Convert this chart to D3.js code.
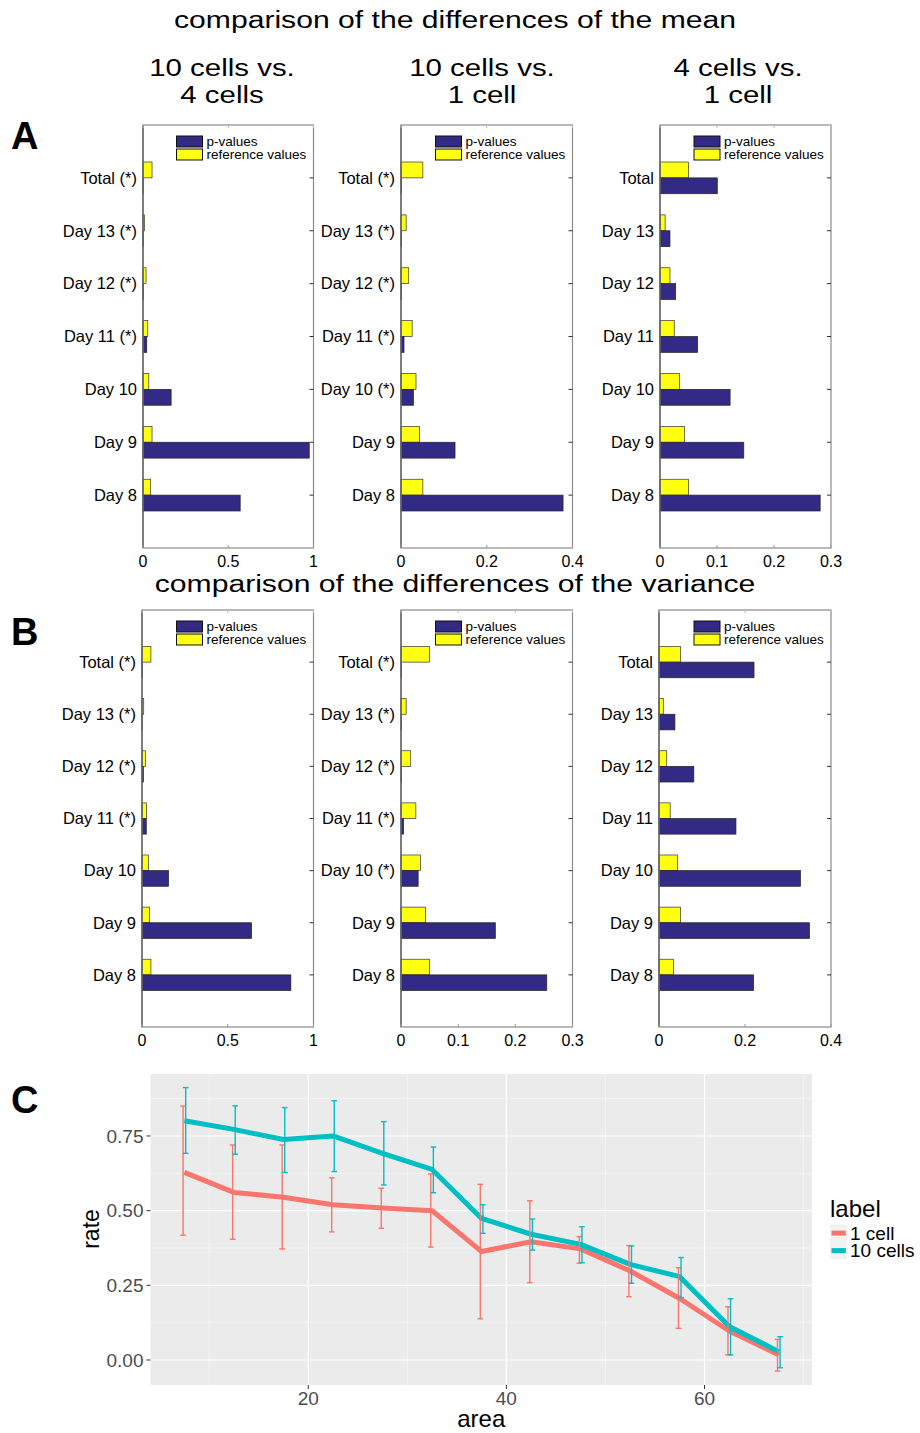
<!DOCTYPE html>
<html>
<head>
<meta charset="utf-8">
<script src="https://cdn.jsdelivr.net/npm/d3@7"></script>
<style>
  body { margin: 0; background: #fff; }
  text { font-family: "Liberation Sans", Arial, sans-serif; }
</style>
</head>
<body>
<div id="chart"></div>
<script>
// ---- data ----
var days = ["Day 8", "Day 9", "Day 10", "Day 11", "Day 12", "Day 13", "Total"];
var labels10v4 = ["Day 8", "Day 9", "Day 10", "Day 11 (*)", "Day 12 (*)", "Day 13 (*)", "Total (*)"];
var labels10v1 = ["Day 8", "Day 9", "Day 10 (*)", "Day 11 (*)", "Day 12 (*)", "Day 13 (*)", "Total (*)"];
var labels4v1 = days;

// mean (panel A)
var meanP_10v4 = [0.57, 0.975, 0.165, 0.022, 0.003, 0.002, 0.001];
var meanRef_10v4 = [0.045, 0.053, 0.034, 0.028, 0.018, 0.008, 0.053];
var meanP_10v1 = [0.378, 0.126, 0.029, 0.007, 0.001, 0.001, 0.001];
var meanRef_10v1 = [0.051, 0.043, 0.035, 0.026, 0.018, 0.012, 0.051];
var meanP_4v1 = [0.281, 0.147, 0.123, 0.066, 0.0275, 0.0175, 0.1005];
var meanRef_4v1 = [0.050, 0.043, 0.034, 0.025, 0.0175, 0.009, 0.050];

// variance (panel B)
var varP_10v4 = [0.868, 0.639, 0.155, 0.025, 0.008, 0.001, 0.002];
var varRef_10v4 = [0.052, 0.043, 0.037, 0.027, 0.020, 0.010, 0.052];
var varP_10v1 = [0.255, 0.165, 0.030, 0.0045, 0.001, 0.0005, 0.0005];
var varRef_10v1 = [0.050, 0.043, 0.034, 0.026, 0.017, 0.009, 0.050];
var varP_4v1 = [0.220, 0.350, 0.329, 0.179, 0.081, 0.037, 0.221];
var varRef_4v1 = [0.034, 0.050, 0.043, 0.026, 0.018, 0.010, 0.050];

var ticks1 = [0, 0.5, 1];
var ticks04 = [0, 0.2, 0.4];
var ticks03 = [0, 0.1, 0.2, 0.3];

// panel C
var area = [7.5, 12.5, 17.5, 22.5, 27.5, 32.5, 37.5, 42.5, 47.5, 52.5, 57.5, 62.5, 67.5];
var rate1 = [0.628, 0.561, 0.545, 0.520, 0.509, 0.500, 0.363, 0.396, 0.372, 0.298, 0.206, 0.097, 0.017];
var lo1 = [0.418, 0.404, 0.372, 0.429, 0.441, 0.378, 0.138, 0.259, 0.324, 0.212, 0.106, 0.017, -0.037];
var hi1 = [0.850, 0.720, 0.720, 0.610, 0.575, 0.623, 0.588, 0.533, 0.413, 0.383, 0.309, 0.178, 0.069];
var rate10 = [0.801, 0.772, 0.738, 0.750, 0.692, 0.638, 0.474, 0.421, 0.387, 0.320, 0.279, 0.112, 0.028];
var lo10 = [0.692, 0.689, 0.628, 0.631, 0.586, 0.560, 0.424, 0.368, 0.326, 0.257, 0.209, 0.017, -0.026];
var hi10 = [0.912, 0.851, 0.845, 0.868, 0.798, 0.713, 0.520, 0.472, 0.446, 0.382, 0.343, 0.205, 0.078];
var seriesNames = ["1 cell", "10 cells"];
var areaTicks = [20, 40, 60];
var rateTicks = [0, 0.25, 0.5, 0.75];

var width = 920, height = 1433;
var blue = "#322a84", yellow = "#ffff10";

var svg = d3.select("#chart").append("svg")
  .attr("width", width)
  .attr("height", height);

// stretched titles like the original figure
function stretchText(x, y, str, size, sx) {
  svg.append("g")
    .attr("transform", "translate(" + x + "," + y + ") scale(" + sx + ",1)")
    .append("text")
    .attr("text-anchor", "middle")
    .style("font-size", size + "px")
    .text(str);
}

stretchText(455, 28, "comparison of the differences of the mean", 23, 1.31);
stretchText(455, 592, "comparison of the differences of the variance", 23, 1.31);

var heads = [["10 cells vs.", "4 cells", 222], ["10 cells vs.", "1 cell", 482], ["4 cells vs.", "1 cell", 738]];
heads.forEach(function(h) {
  stretchText(h[2], 76, h[0], 23, 1.28);
  stretchText(h[2], 103, h[1], 23, 1.28);
});

[["A", 149], ["B", 645], ["C", 1113]].forEach(function(l) {
  svg.append("text")
    .attr("x", 11).attr("y", l[1])
    .style("font-size", "38px").style("font-weight", "bold")
    .text(l[0]);
});

// horizontal grouped bar chart (matlab style)
function drawBars(c) {
  var x = d3.scaleLinear().domain([0, c.max]).range([c.left, c.right]);
  var y = d3.scaleLinear().domain([0, 8]).range([c.bottom, c.top]);
  var bh = y(0) - y(0.3);
  var g = svg.append("g");

  var rows = days.map(function(d, i) {
    return { i: i + 1, p: c.p[i], ref: c.ref[i], label: c.labels[i] };
  });

  g.selectAll(".ref").data(rows).enter().append("rect")
    .attr("x", x(0))
    .attr("y", function(d) { return y(d.i) - bh; })
    .attr("width", function(d) { return x(d.ref) - x(0); })
    .attr("height", bh)
    .attr("fill", yellow)
    .attr("stroke", "#333").attr("stroke-width", 0.7);

  g.selectAll(".pv").data(rows).enter().append("rect")
    .attr("x", x(0))
    .attr("y", function(d) { return y(d.i); })
    .attr("width", function(d) { return x(d.p) - x(0); })
    .attr("height", bh)
    .attr("fill", blue)
    .attr("stroke", "#222").attr("stroke-width", 0.7);

  // box
  g.append("rect")
    .attr("x", c.left).attr("y", c.top)
    .attr("width", c.right - c.left).attr("height", c.bottom - c.top)
    .attr("fill", "none").attr("stroke", "#8a8a8a").attr("stroke-width", 1.2);
  g.append("line")
    .attr("x1", c.left).attr("x2", c.left).attr("y1", c.top).attr("y2", c.bottom)
    .attr("stroke", "#555").attr("stroke-width", 1.2);

  // right ticks
  g.selectAll(".rt").data(rows).enter().append("line")
    .attr("x1", c.right - 4).attr("x2", c.right)
    .attr("y1", function(d) { return y(d.i); })
    .attr("y2", function(d) { return y(d.i); })
    .attr("stroke", "#333");

  // x ticks inside top/bottom
  c.ticks.forEach(function(t) {
    g.append("line").attr("x1", x(t)).attr("x2", x(t))
      .attr("y1", c.bottom).attr("y2", c.bottom - 3).attr("stroke", "#999");
    g.append("line").attr("x1", x(t)).attr("x2", x(t))
      .attr("y1", c.top).attr("y2", c.top + 3).attr("stroke", "#bbb");
  });

  g.selectAll(".xl").data(c.ticks).enter().append("text")
    .attr("x", function(d) { return x(d); })
    .attr("y", c.bottom + 19)
    .attr("text-anchor", "middle")
    .style("font-size", "16px")
    .text(function(d) { return d; });

  g.selectAll(".yl").data(rows).enter().append("text")
    .attr("x", c.left - 6)
    .attr("y", function(d) { return y(d.i); })
    .attr("dy", "0.35em")
    .attr("text-anchor", "end")
    .style("font-size", "16.5px")
    .text(function(d) { return d.label; });

  // legend
  var lx = c.right - 137, ly = c.top + 11;
  [["p-values", blue], ["reference values", yellow]].forEach(function(e, k) {
    g.append("rect")
      .attr("x", lx).attr("y", ly + k * 13)
      .attr("width", 26).attr("height", 11)
      .attr("fill", e[1]).attr("stroke", "#111").attr("stroke-width", 1);
    g.append("text")
      .attr("x", lx + 30).attr("y", ly + k * 13 + 5.5)
      .attr("dy", "0.35em")
      .style("font-size", "13.5px")
      .text(e[0]);
  });
}

drawBars({ left: 143, right: 313.5, top: 125, bottom: 548, max: 1, ticks: ticks1, labels: labels10v4, p: meanP_10v4, ref: meanRef_10v4 });
drawBars({ left: 401, right: 572.5, top: 125, bottom: 548, max: 0.4, ticks: ticks04, labels: labels10v1, p: meanP_10v1, ref: meanRef_10v1 });
drawBars({ left: 660, right: 831, top: 125, bottom: 548, max: 0.3, ticks: ticks03, labels: labels4v1, p: meanP_4v1, ref: meanRef_4v1 });

drawBars({ left: 142, right: 313.5, top: 610, bottom: 1027, max: 1, ticks: ticks1, labels: labels10v4, p: varP_10v4, ref: varRef_10v4 });
drawBars({ left: 401, right: 572.5, top: 610, bottom: 1027, max: 0.3, ticks: ticks03, labels: labels10v1, p: varP_10v1, ref: varRef_10v1 });
drawBars({ left: 659, right: 831, top: 610, bottom: 1027, max: 0.4, ticks: ticks04, labels: labels4v1, p: varP_4v1, ref: varRef_4v1 });

// ---- panel C (ggplot style) ----
var pl = 150.5, pr = 812, pt = 1074, pb = 1385;
var x = d3.scaleLinear().domain([4.08, 70.85]).range([pl, pr]);
var y = d3.scaleLinear().domain([-0.0837, 0.9575]).range([pb, pt]);

var c = svg.append("g");
c.append("rect").attr("x", pl).attr("y", pt).attr("width", pr - pl).attr("height", pb - pt)
  .attr("fill", "#ebebeb");

[10, 30, 50, 70].forEach(function(v) {
  c.append("line").attr("x1", x(v)).attr("x2", x(v)).attr("y1", pt).attr("y2", pb)
    .attr("stroke", "#fafafa").attr("stroke-width", 0.6);
});
[0.125, 0.375, 0.625, 0.875].forEach(function(v) {
  c.append("line").attr("y1", y(v)).attr("y2", y(v)).attr("x1", pl).attr("x2", pr)
    .attr("stroke", "#fafafa").attr("stroke-width", 0.6);
});
areaTicks.forEach(function(v) {
  c.append("line").attr("x1", x(v)).attr("x2", x(v)).attr("y1", pt).attr("y2", pb)
    .attr("stroke", "#fff").attr("stroke-width", 1.2);
});
rateTicks.forEach(function(v) {
  c.append("line").attr("y1", y(v)).attr("y2", y(v)).attr("x1", pl).attr("x2", pr)
    .attr("stroke", "#fff").attr("stroke-width", 1.2);
});

var series = [
  { name: seriesNames[0], color: "#F8766D", rate: rate1, lo: lo1, hi: hi1, dodge: -0.13 },
  { name: seriesNames[1], color: "#00BFC4", rate: rate10, lo: lo10, hi: hi10, dodge: 0.13 }
];

var line = d3.line()
  .x(function(d) { return x(d[0]); })
  .y(function(d) { return y(d[1]); });

series.forEach(function(s) {
  var pts = area.map(function(a, i) { return [a, s.rate[i]]; });
  c.append("path").datum(pts)
    .attr("d", line)
    .attr("fill", "none")
    .attr("stroke", s.color)
    .attr("stroke-width", 5)
    .attr("stroke-linejoin", "round");
});

series.forEach(function(s) {
  area.forEach(function(a, i) {
    var xx = x(a + s.dodge);
    c.append("line").attr("x1", xx).attr("x2", xx)
      .attr("y1", y(s.lo[i])).attr("y2", y(s.hi[i]))
      .attr("stroke", s.color).attr("stroke-width", 1.4);
    [s.lo[i], s.hi[i]].forEach(function(v) {
      c.append("line").attr("x1", xx - 2.8).attr("x2", xx + 2.8)
        .attr("y1", y(v)).attr("y2", y(v))
        .attr("stroke", s.color).attr("stroke-width", 1.4);
    });
  });
});

// axes
rateTicks.forEach(function(v) {
  c.append("line").attr("x1", pl - 4).attr("x2", pl).attr("y1", y(v)).attr("y2", y(v))
    .attr("stroke", "#333").attr("stroke-width", 1);
  c.append("text").attr("x", pl - 7).attr("y", y(v)).attr("dy", "0.35em")
    .attr("text-anchor", "end").attr("fill", "#4d4d4d").style("font-size", "19px")
    .text(d3.format(".2f")(v));
});
areaTicks.forEach(function(v) {
  c.append("line").attr("x1", x(v)).attr("x2", x(v)).attr("y1", pb).attr("y2", pb + 4)
    .attr("stroke", "#333").attr("stroke-width", 1);
  c.append("text").attr("x", x(v)).attr("y", pb + 20)
    .attr("text-anchor", "middle").attr("fill", "#4d4d4d").style("font-size", "19px")
    .text(v);
});

c.append("text").attr("x", (pl + pr) / 2).attr("y", 1427)
  .attr("text-anchor", "middle").style("font-size", "24px").text("area");
c.append("text").attr("transform", "translate(98.5,1229) rotate(-90)")
  .attr("text-anchor", "middle").style("font-size", "23px").text("rate");

// legend
c.append("text").attr("x", 830).attr("y", 1217).style("font-size", "24px").text("label");
series.forEach(function(s, k) {
  var ky = 1224.5 + k * 17.5;
  c.append("rect").attr("x", 830).attr("y", ky).attr("width", 17.3).attr("height", 17.3)
    .attr("fill", "#f2f2f2");
  c.append("line").attr("x1", 831.5).attr("x2", 845.8).attr("y1", ky + 8.6).attr("y2", ky + 8.6)
    .attr("stroke", s.color).attr("stroke-width", 5);
  c.append("text").attr("x", 850).attr("y", ky + 8.6).attr("dy", "0.35em")
    .style("font-size", "19px").text(s.name);
});
</script>
</body>
</html>
